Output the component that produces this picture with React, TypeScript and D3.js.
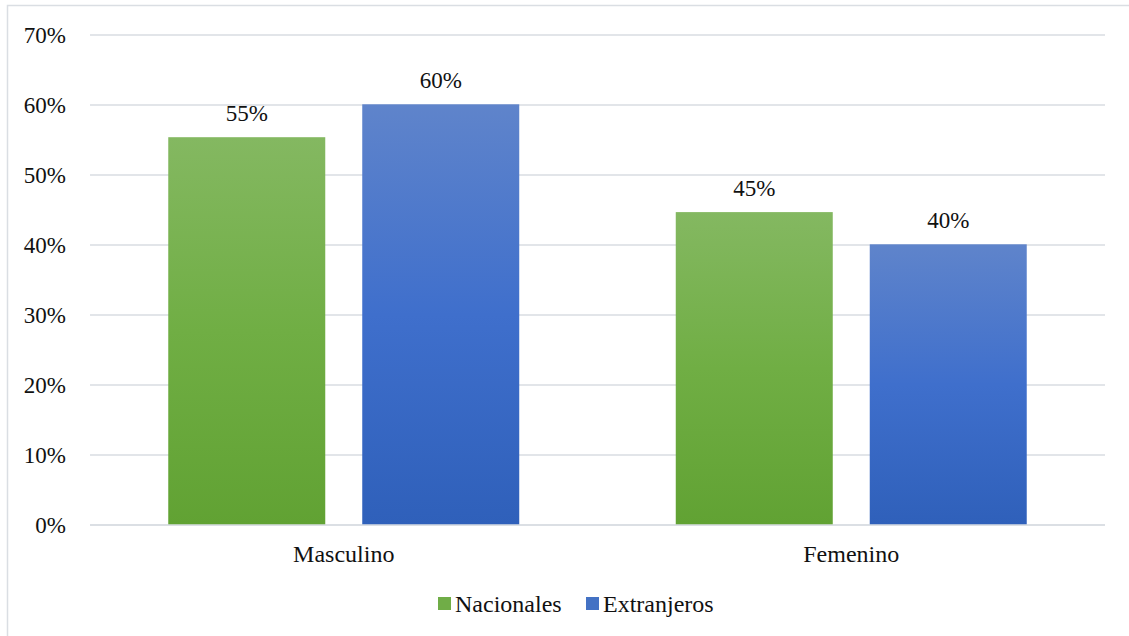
import React from "react";
import * as d3 from "d3";

const categories = ["Masculino", "Femenino"];
const seriesNames = ["Nacionales", "Extranjeros"];
const nacionales = [0.554, 0.447];
const extranjeros = [0.601, 0.401];
const dataLabels = [["55%", "45%"], ["60%", "40%"]];
const yTicks = [0, 0.1, 0.2, 0.3, 0.4, 0.5, 0.6, 0.7];

const W = 1129;
const H = 636;
const FONT = "Liberation Serif";
const css = `
svg.chart text, svg.chart tspan { font-family: "Liberation Serif", "Times New Roman", Tinos, serif !important; fill: #111; }
svg.chart .num { font-size: 23px; }
svg.chart .lbl { font-size: 24px; }
`;

export default function App() {
  const x0 = d3.scaleBand().domain(categories).range([90, 1105]).paddingInner(0).paddingOuter(0);
  const y = d3.scaleLinear().domain([0, 0.7]).range([525, 35]);
  const inner = d3
    .scaleBand()
    .domain(seriesNames)
    .range([0, x0.bandwidth()])
    .paddingInner(0.1907)
    .paddingOuter(0.4034);
  const fmt = d3.format(".0%");
  const series = [nacionales, extranjeros];
  const gradIds = ["gGreen", "gBlue"];
  const legendColors = ["#70ad47", "#4472c4"];
  const numStyle = { fontFamily: FONT, fontSize: "23px" };
  const txtStyle = { fontFamily: FONT, fontSize: "24px" };

  return (
    <svg
      className="chart"
      width={W}
      height={H}
      style={{ position: "fixed", left: 0, top: 0, background: "#fff" }}
    >
      <style>{css}</style>
      <defs>
        <linearGradient id="gGreen" x1="0" y1="0" x2="0" y2="1">
          <stop offset="0%" stopColor="#84b861" />
          <stop offset="50%" stopColor="#70ae44" />
          <stop offset="100%" stopColor="#61a233" />
        </linearGradient>
        <linearGradient id="gBlue" x1="0" y1="0" x2="0" y2="1">
          <stop offset="0%" stopColor="#5f84cb" />
          <stop offset="50%" stopColor="#3f6fcc" />
          <stop offset="100%" stopColor="#2f60ba" />
        </linearGradient>
      </defs>
      <rect x={7.5} y={5.5} width={W + 10} height={H + 10} fill="#fff" stroke="#dadee3" strokeWidth={1.5} />
      {yTicks.map((t) => (
        <g key={t}>
          <line x1={90} x2={1105} y1={y(t)} y2={y(t)} stroke="#d9dde2" strokeWidth={1.5} />
          <text className="num" x={66} y={y(t)} dy="0.35em" textAnchor="end" style={numStyle}>
            <tspan>{fmt(t)}</tspan>
          </text>
        </g>
      ))}
      {categories.map((c, ci) => (
        <g key={c} transform={`translate(${x0(c)},0)`}>
          {seriesNames.map((s, si) => {
            const v = series[si][ci];
            const bx = inner(s)!;
            return (
              <g key={s}>
                <rect
                  x={bx}
                  y={y(v)}
                  width={inner.bandwidth()}
                  height={y(0) - y(v)}
                  fill={`url(#${gradIds[si]})`}
                />
                <text
                  className="num"
                  x={bx + inner.bandwidth() / 2}
                  y={y(v) - 16}
                  textAnchor="middle"
                  style={numStyle}
                >
                  <tspan>{dataLabels[si][ci]}</tspan>
                </text>
              </g>
            );
          })}
          <text className="lbl" x={x0.bandwidth() / 2} y={562} textAnchor="middle" style={txtStyle}>
            <tspan>{c}</tspan>
          </text>
        </g>
      ))}
      <line x1={90} x2={1105} y1={y(0)} y2={y(0)} stroke="#d9dde2" strokeWidth={1.5} />
      <g transform="translate(438,597)">
        {seriesNames.map((s, i) => (
          <g key={s} transform={`translate(${i * 148},0)`}>
            <rect x={0} y={0} width={13} height={13} fill={legendColors[i]} />
            <text className="lbl" x={17} y={15} style={txtStyle}>
              <tspan>{s}</tspan>
            </text>
          </g>
        ))}
      </g>
    </svg>
  );
}
